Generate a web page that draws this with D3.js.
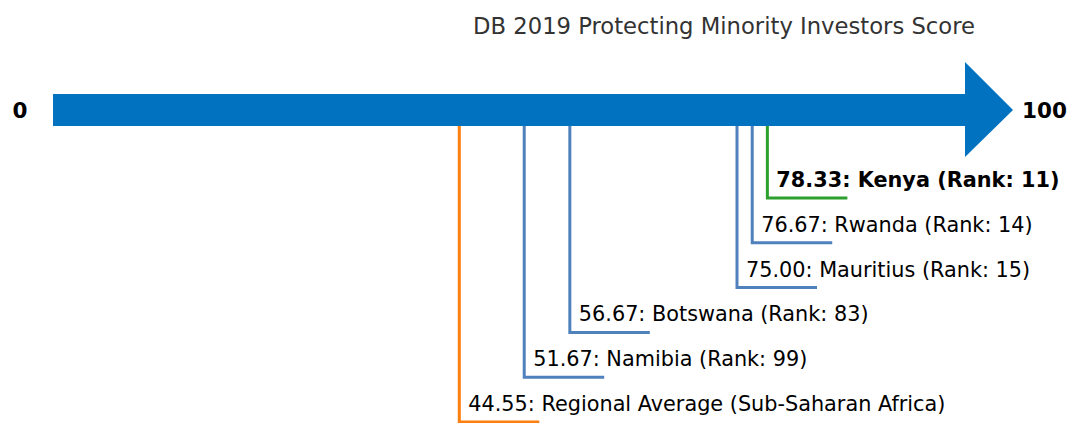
<!DOCTYPE html>
<html>
<head>
<meta charset="utf-8">
<script src="https://cdn.jsdelivr.net/npm/d3@7"></script>
<style>
  body { margin: 0; background: #fff; }
  svg { display: block; font-family: "DejaVu Sans", sans-serif; }
</style>
</head>
<body>
<svg id="chart" width="1071" height="423"></svg>
<script>
// values, top label first
const names = ["Kenya", "Rwanda", "Mauritius", "Botswana", "Namibia", "Regional Average (Sub-Saharan Africa)"];
const scores = [78.33, 76.67, 75.00, 56.67, 51.67, 44.55];
const ranks = [11, 14, 15, 83, 99, null];
const kinds = ["focus", "peer", "peer", "peer", "peer", "average"];
const axisEnds = [0, 100];

const colors = { focus: "#2ca02c", peer: "#4f81bd", average: "#ff7f0e" };

const svg = d3.select("#chart");
const x = d3.scaleLinear().domain(axisEnds).range([53, 965]);
const y = d3.scalePoint().domain(names).range([198, 422]);

const barTop = 94, barBottom = 126, barMid = 110;

// leader lines, drawn first so the arrow sits on top
const rows = names.map((n, i) => ({ name: n, score: scores[i], rank: ranks[i], kind: kinds[i] }));

const g = svg.append("g");
g.selectAll("path.leader")
  .data(rows)
  .enter()
  .append("path")
  .attr("class", "leader")
  .attr("fill", "none")
  .attr("stroke", d => colors[d.kind])
  .attr("stroke-width", 3)
  .attr("d", d => {
    const px = x(d.score), py = y(d.name);
    return `M${px},${barBottom}V${py}H${px + 80}`;
  });

g.selectAll("text.lbl")
  .data(rows)
  .enter()
  .append("text")
  .attr("class", "lbl")
  .attr("x", d => x(d.score) + 9)
  .attr("y", d => y(d.name) - 11)
  .attr("font-size", 20.8)
  .attr("font-weight", d => d.kind === "focus" ? "bold" : "normal")
  .attr("fill", "#000")
  .text(d => d.score.toFixed(2) + ": " + d.name + (d.rank != null ? " (Rank: " + d.rank + ")" : ""));

// the arrow
svg.append("path")
  .attr("fill", "#0072bf")
  .attr("d", `M${x(0)},${barTop}H${x(100)}V62L1013,${barMid}L${x(100)},157V${barBottom}H${x(0)}Z`);

svg.append("text")
  .attr("x", 20).attr("y", barMid).attr("dy", ".35em")
  .attr("text-anchor", "middle")
  .attr("font-size", 21.5).attr("font-weight", "bold")
  .text(axisEnds[0]);

svg.append("text")
  .attr("x", 1022).attr("y", barMid).attr("dy", ".35em")
  .attr("font-size", 21.5).attr("font-weight", "bold")
  .text(axisEnds[1]);

svg.append("text")
  .attr("x", 724).attr("y", 26).attr("dy", ".35em")
  .attr("text-anchor", "middle")
  .attr("font-size", 22.7).attr("fill", "#333")
  .text("DB 2019 Protecting Minority Investors Score");
</script>
</body>
</html>
